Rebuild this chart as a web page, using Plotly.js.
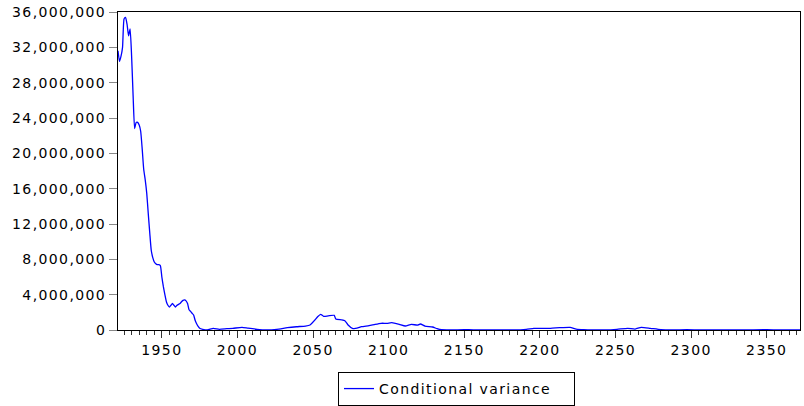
<!DOCTYPE html>
<html>
<head>
<meta charset="utf-8">
<script src="https://cdn.plot.ly/plotly-3.0.1.min.js"></script>
<style>
  html, body { margin: 0; padding: 0; background: #fff; }
  #chart { width: 804px; height: 406px; }
  .xtick text, .ytick text, .legendtext { letter-spacing: 1.4px; }
</style>
</head>
<body>
<div id="chart"></div>
<script>
const obs = [1921, 1922, 1923, 1924, 1925, 1926, 1927, 1928, 1929, 1930, 1931, 1932, 1933, 1934, 1935,
  1936, 1937, 1938, 1939, 1940, 1941, 1942, 1943, 1944, 1945, 1946, 1947, 1948, 1949, 1950,
  1951, 1952, 1953, 1954, 1955, 1956, 1957, 1958, 1959, 1960, 1961, 1962, 1963, 1964, 1965,
  1966, 1967, 1968, 1969, 1970, 1971, 1972, 1973, 1974, 1975, 1977, 1980, 1984, 1988, 1993,
  1997, 2003, 2007, 2013, 2019, 2026, 2033, 2039, 2045, 2048, 2051, 2053, 2055, 2057, 2060,
  2064, 2065, 2069, 2071, 2073, 2076, 2079, 2082, 2087, 2091, 2095, 2099, 2102, 2107, 2111,
  2115, 2119, 2121, 2124, 2129, 2132, 2135, 2141, 2150, 2156, 2165, 2174, 2183, 2191, 2196,
  2200, 2207, 2213, 2220, 2224, 2229, 2235, 2244, 2251, 2258, 2263, 2267, 2273, 2280, 2288,
  2297, 2306, 2315, 2332, 2350, 2359, 2372];

const condVariance = [31600000, 30400000, 31000000, 32000000, 35200000, 35400000, 34600000, 33300000, 34100000, 31000000, 26500000, 22800000, 23500000, 23500000, 23200000,
  22500000, 20500000, 18200000, 17000000, 15500000, 13200000, 11000000, 9000000, 8200000, 7700000, 7500000, 7400000, 7400000, 7300000, 6000000,
  4900000, 4000000, 3200000, 2800000, 2600000, 2800000, 3000000, 2800000, 2600000, 2800000, 2900000, 3000000, 3200000, 3350000, 3400000,
  3300000, 3000000, 2300000, 2100000, 1900000, 1700000, 1100000, 700000, 400000, 200000, 80000, 0, 190000, 80000, 150000,
  190000, 300000, 200000, 80000, 20000, 80000, 260000, 370000, 450000, 570000, 1100000, 1500000, 1780000, 1550000, 1600000,
  1660000, 1250000, 1150000, 1050000, 600000, 190000, 200000, 370000, 490000, 640000, 760000, 760000, 830000, 640000, 450000,
  640000, 550000, 680000, 450000, 340000, 150000, 30000, 10000, 30000, 20000, 0, 0, 0, 80000, 190000,
  190000, 190000, 260000, 300000, 110000, 40000, 10000, 10000, 80000, 190000, 110000, 300000, 190000, 40000, 10000,
  40000, 10000, 10000, 10000, 30000, 10000, 10000];

const seriesName = "Conditional variance";
const yTicks = [0, 4000000, 8000000, 12000000, 16000000, 20000000, 24000000, 28000000, 32000000, 36000000];
const xTicks = [1950, 2000, 2050, 2100, 2150, 2200, 2250, 2300, 2350];

const font = { family: "DejaVu Sans, Verdana, sans-serif", size: 14, color: "#000" };

const trace = {
  x: obs,
  y: condVariance,
  type: "scatter",
  mode: "lines",
  name: seriesName,
  line: { color: "#0000ff", width: 1.3, shape: "spline", smoothing: 0.5 },
  cliponaxis: false,
  showlegend: true
};

const layout = {
  width: 804,
  height: 406,
  margin: { l: 118, r: 4, t: 12, b: 76, autoexpand: false },
  paper_bgcolor: "#fff",
  plot_bgcolor: "#fff",
  font: font,
  showlegend: true,
  xaxis: {
    range: [1921, 2372],
    tickmode: "array",
    tickvals: xTicks,
    ticktext: xTicks.map(String),
    ticks: "outside",
    ticklen: 7,
    tickwidth: 1,
    tickcolor: "#333",
    minor: { dtick: 5, tick0: 1920, ticks: "outside", ticklen: 4, tickwidth: 1, tickcolor: "#333", showgrid: false },
    showline: true,
    linecolor: "#000",
    linewidth: 1,
    mirror: true,
    showgrid: false,
    zeroline: false,
    tickfont: font
  },
  yaxis: {
    range: [0, 36000000],
    tickmode: "array",
    tickvals: yTicks,
    ticktext: yTicks.map(v => v.toLocaleString("en-US")),
    ticks: "outside",
    ticklen: 8,
    tickwidth: 1,
    tickcolor: "#888",
    showline: true,
    linecolor: "#000",
    linewidth: 1,
    mirror: true,
    showgrid: false,
    zeroline: false,
    tickfont: font
  },
  legend: {
    orientation: "h",
    x: 0.3226,
    xanchor: "left",
    y: -0.132,
    yanchor: "top",
    entrywidth: 190,
    bordercolor: "#000",
    borderwidth: 1,
    bgcolor: "#fff",
    font: font
  }
};

Plotly.newPlot("chart", [trace], layout, { displayModeBar: false, staticPlot: true });
</script>
</body>
</html>
